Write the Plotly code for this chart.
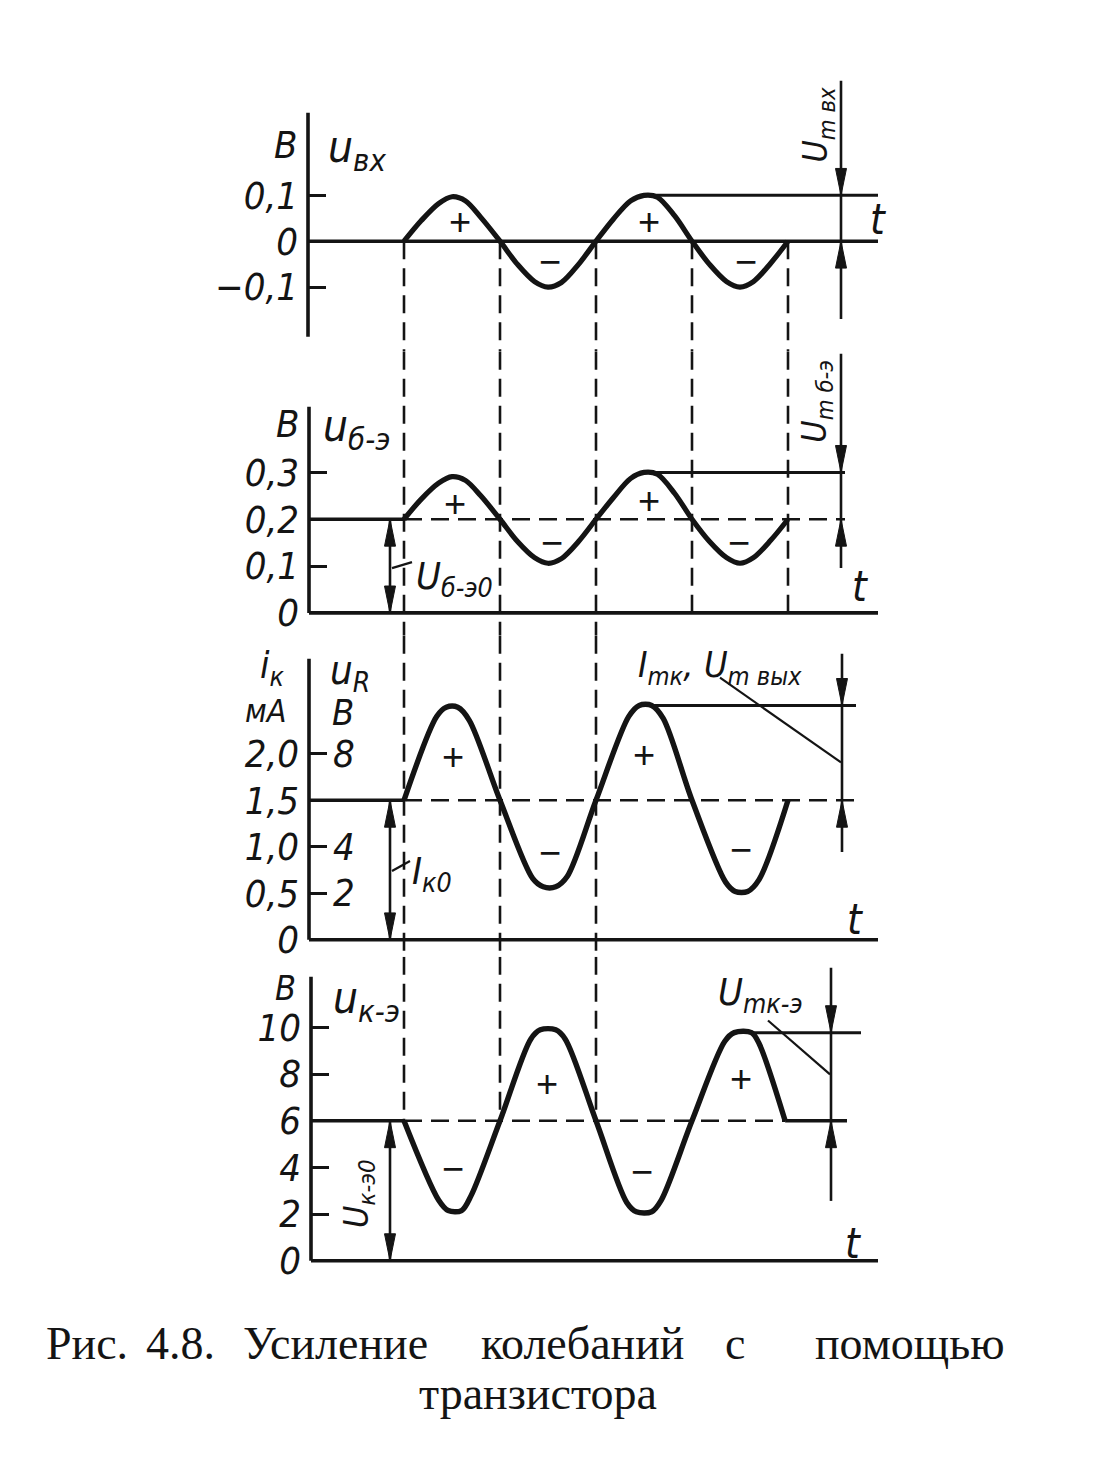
import plotly.graph_objects as go

W, H = 1093, 1461
INK = "#141414"
FONT = "Liberation Sans Narrow, DejaVu Sans Condensed, Liberation Sans, sans-serif"
SERIF = "Liberation Serif, DejaVu Serif, serif"

# ------------------------------------------------------------------ data
# time in half-periods of the input signal
t_in = [0.0, 0.18, 0.36, 0.5, 0.64, 0.8, 1.0, 1.18, 1.36, 1.5, 1.64, 1.82, 2.0,
        2.18, 2.36, 2.5, 2.64, 2.82, 3.0, 3.18, 3.36, 3.5, 3.64, 3.82, 4.0]
u_in = [0.0, 0.045, 0.082, 0.097, 0.088, 0.052, 0.0, -0.05, -0.088, -0.1, -0.09, -0.05, 0.0,
        0.048, 0.088, 0.1, 0.096, 0.055, 0.0, -0.05, -0.088, -0.1, -0.088, -0.048, 0.0]

t_be = [0.0, 0.18, 0.36, 0.5, 0.64, 0.8, 1.0, 1.18, 1.36, 1.5, 1.64, 1.82, 2.0,
        2.18, 2.36, 2.5, 2.64, 2.82, 3.0, 3.18, 3.36, 3.5, 3.64, 3.82, 4.0]
u_be = [0.2, 0.243, 0.277, 0.291, 0.283, 0.25, 0.2, 0.153, 0.118, 0.106, 0.116, 0.153, 0.2,
        0.246, 0.287, 0.3, 0.296, 0.255, 0.2, 0.153, 0.118, 0.106, 0.118, 0.155, 0.2]

t_k = [0.0, 0.34, 0.44, 0.56, 0.68, 1.0, 1.34, 1.45, 1.58, 1.7, 2.0,
       2.34, 2.45, 2.58, 2.7, 3.0, 3.35, 3.45, 3.58, 3.7, 4.0]
i_k = [1.5, 2.4, 2.5, 2.5, 2.36, 1.5, 0.66, 0.57, 0.57, 0.68, 1.5,
       2.4, 2.52, 2.52, 2.38, 1.5, 0.62, 0.52, 0.52, 0.65, 1.5]

t_ke = [0.0, 0.36, 0.46, 0.6, 0.7, 1.0, 1.32, 1.42, 1.58, 1.68, 2.0,
        2.32, 2.42, 2.58, 2.68, 3.0, 3.34, 3.44, 3.62, 3.7, 3.97]
u_ke = [6.0, 2.6, 2.15, 2.15, 2.8, 6.0, 9.5, 9.9, 9.9, 9.5, 6.0,
        2.5, 2.1, 2.1, 2.6, 6.0, 9.4, 9.78, 9.78, 9.3, 6.0]

# zero crossings of the input (dashed projection lines); True = reaches the last panel
cross_t = [0.0, 1.0, 2.0, 3.0, 4.0]
cross_deep = [True, True, True, False, False]

ticks_in = [0.1, 0.0, -0.1]
ticklab_in = ["0,1", "0", "−0,1"]
ticks_be = [0.3, 0.2, 0.1, 0.0]
ticklab_be = ["0,3", "0,2", "0,1", "0"]
ticks_k = [2.0, 1.5, 1.0, 0.5, 0.0]
ticklab_k = ["2,0", "1,5", "1,0", "0,5", "0"]
ticks_R_volts = [8, 4, 2]          # u_R scale, R = 4 kOhm
R_kohm = 4.0
ticks_ke = [10, 8, 6, 4, 2, 0]
ticklab_ke = ["10", "8", "6", "4", "2", "0"]

# ------------------------------------------------------------------ layout geometry (pixels)
X0_PX, T_PX = 396.0, 96.0
PANELS = {
    "y":  dict(zero=234.0, scale=460.0, top=60, bot=345, axis_x=300, axis_top=105, axis_bot=330),
    "y2": dict(zero=607.0, scale=470.0, top=345, bot=630, axis_x=301, axis_top=400, axis_bot=607),
    "y3": dict(zero=935.0, scale=93.33, top=630, bot=952, axis_x=301, axis_top=653, axis_bot=935),
    "y4": dict(zero=1257.0, scale=23.4, top=952, bot=1290, axis_x=303, axis_top=972, axis_bot=1257),
}


def tx(px):
    return (px - X0_PX) / T_PX


def vy(p, py):
    P = PANELS[p]
    return (P["zero"] - py) / P["scale"]


fig = go.Figure()


def line(p, xs, ys, width, dash=None, spline=False):
    ln = dict(color=INK, width=width)
    if dash:
        ln["dash"] = dash
    if spline:
        ln["shape"] = "spline"
        ln["smoothing"] = 0.9
    fig.add_trace(go.Scatter(x=xs, y=ys, mode="lines", line=ln, xaxis="x", yaxis=p,
                             hoverinfo="skip", showlegend=False))


def head(p, t, v, up):
    """narrow filled arrow head with its tip at (t, v)"""
    P = PANELS[p]
    dt = 5.5 / T_PX
    dv = 27.0 / P["scale"]
    base = v - dv if up else v + dv
    fig.add_trace(go.Scatter(x=[t - dt, t + dt, t, t - dt], y=[base, base, v, base],
                             mode="lines", fill="toself", fillcolor=INK,
                             line=dict(color=INK, width=1), xaxis="x", yaxis=p,
                             hoverinfo="skip", showlegend=False))


def amp_arrow(p, px, hi, lo, top_px, bot_px):
    t = tx(px)
    line(p, [t, t], [vy(p, top_px), vy(p, bot_px)], 2.6)
    head(p, t, hi, up=False)
    head(p, t, lo, up=True)


def dc_arrow(p, px, level):
    t = tx(px)
    line(p, [t, t], [level, 0.0], 2.6)
    head(p, t, level, up=True)
    head(p, t, 0.0, up=False)


DASH = "18px,9px"
AX_END = 870

# ---- axes lines
for p, P in PANELS.items():
    ta = tx(P["axis_x"])
    line(p, [ta, ta], [vy(p, P["axis_top"]), vy(p, P["axis_bot"])], 3.6)
    line(p, [ta, tx(AX_END)], [0.0, 0.0], 3.6)

# ---- dashed projection lines
for t, deep in zip(cross_t, cross_deep):
    line("y", [t, t], [0.0, vy("y", PANELS["y"]["bot"])], 2.6, DASH)
    line("y2", [t, t], [vy("y2", PANELS["y2"]["top"]), vy("y2", PANELS["y2"]["bot"]) if deep else 0.0], 2.6, DASH)
    if deep:
        line("y3", [t, t], [vy("y3", PANELS["y3"]["top"]), vy("y3", PANELS["y3"]["bot"])], 2.6, DASH)
        line("y4", [t, t], [vy("y4", PANELS["y4"]["top"]), u_ke[0]], 2.6, DASH)

# ---- panel 1: input voltage
line("y", t_in, u_in, 5.2, spline=True)
i_pk = max(range(len(u_in)), key=lambda i: (u_in[i], t_in[i]))
line("y", [t_in[i_pk], tx(870)], [u_in[i_pk], u_in[i_pk]], 3.0)
amp_arrow("y", 833, u_in[i_pk], u_in[0], 73, 312)

# ---- panel 2: base-emitter voltage
line("y2", [tx(PANELS["y2"]["axis_x"]), t_be[0]], [u_be[0], u_be[0]], 3.6)
line("y2", [t_be[0], tx(837)], [u_be[0], u_be[0]], 2.6, DASH)
line("y2", t_be, u_be, 5.2, spline=True)
i_pk = max(range(len(u_be)), key=lambda i: (u_be[i], t_be[i]))
line("y2", [t_be[i_pk], tx(837)], [u_be[i_pk], u_be[i_pk]], 3.0)
amp_arrow("y2", 833, u_be[i_pk], u_be[0], 347, 562)
dc_arrow("y2", 382, u_be[0])

# ---- panel 3: collector current / u_R
line("y3", [tx(PANELS["y3"]["axis_x"]), t_k[0]], [i_k[0], i_k[0]], 3.6)
line("y3", [t_k[0], tx(850)], [i_k[0], i_k[0]], 2.6, DASH)
line("y3", t_k, i_k, 5.4, spline=True)
i_pk = max(range(len(i_k)), key=lambda i: (i_k[i], t_k[i]))
line("y3", [t_k[i_pk], tx(848)], [i_k[i_pk], i_k[i_pk]], 3.0)
amp_arrow("y3", 834, i_k[i_pk], i_k[0], 648, 847)
dc_arrow("y3", 382, i_k[0])

# ---- panel 4: collector-emitter voltage
line("y4", [tx(PANELS["y4"]["axis_x"]), t_ke[0]], [u_ke[0], u_ke[0]], 3.6)
line("y4", [t_ke[0], t_ke[-1]], [u_ke[0], u_ke[0]], 2.6, DASH)
line("y4", t_ke, u_ke, 5.4, spline=True)
line("y4", [t_ke[-1], tx(839)], [u_ke[-1], u_ke[-1]], 3.4)
i_pk = max(range(len(u_ke)), key=lambda i: (round(u_ke[i], 2) if t_ke[i] > 3 else -1, t_ke[i]))
line("y4", [t_ke[i_pk], tx(853)], [u_ke[i_pk], u_ke[i_pk]], 3.0)
amp_arrow("y4", 823, u_ke[i_pk], u_ke[0], 963, 1197)
dc_arrow("y4", 382, u_ke[0])

# ---- leader lines (paper pixels)
for x0, y0, x1, y1 in [(384, 562, 404, 556), (384, 866, 402, 856),
                       (712, 672, 833, 757), (760, 1016, 822, 1070)]:
    fig.add_shape(type="line", xref="paper", yref="paper", x0=x0 / W, y0=1 - y0 / H,
                  x1=x1 / W, y1=1 - y1 / H, line=dict(color=INK, width=2.2))


# ---- text
def label(text, px, py, size=38, angle=0, family=FONT, italic=True, xanchor="center"):
    fig.add_annotation(text=text, x=px / W, y=1 - py / H, xref="paper", yref="paper",
                       showarrow=False, textangle=angle, xanchor=xanchor, yanchor="middle",
                       borderpad=0,
                       font=dict(family=family, size=size, color=INK,
                                 style="italic" if italic else "normal"))


SIGN = "Liberation Sans, DejaVu Sans, sans-serif"
labels = [
    # panel 1
    ("В", 278, 137, 38, 0), ("u<sub>вх</sub>", 349, 142, 44, 0),
    ("U<sub>m вх</sub>", 810, 117, 34, -90), ("t", 870, 212, 42, 0),
    # panel 2
    ("В", 279, 417, 38, 0), ("u<sub>б-э</sub>", 348, 422, 44, 0),
    ("U<sub>m б-э</sub>", 809, 395, 34, -90), ("t", 852, 580, 42, 0),
    ("U<sub>б-э0</sub>", 446, 572, 38, 0),
    # panel 3
    ("i<sub>к</sub>", 264, 662, 38, 0), ("u<sub>R</sub>", 342, 667, 40, 0),
    ("мА", 257, 705, 32, 0), ("В", 335, 707, 36, 0),
    ("I<sub>mк</sub>, U<sub>m вых</sub>", 712, 662, 36, 0),
    ("I<sub>к0</sub>", 424, 868, 38, 0), ("t", 847, 915, 42, 0),
    # panel 4
    ("В", 278, 983, 34, 0), ("u<sub>к-э</sub>", 358, 996, 44, 0),
    ("U<sub>mк-э</sub>", 752, 990, 38, 0), ("U<sub>к-э0</sub>", 351, 1190, 34, -90),
    ("t", 845, 1240, 42, 0),
]
for txt, x, y, s, a in labels:
    label(txt, x, y, s, a)

for txt, x, y in [("+", 452, 215), ("+", 641, 215), ("−", 542, 255), ("−", 738, 255),
                  ("+", 447, 498), ("+", 641, 495), ("−", 544, 537), ("−", 731, 537),
                  ("+", 445, 752), ("+", 636, 750), ("−", 542, 848), ("−", 733, 845),
                  ("−", 445, 1165), ("−", 634, 1168), ("+", 539, 1080), ("+", 733, 1075)]:
    label(txt, x, y, 38, family=SIGN, italic=False)

# u_R scale labels (second column, panel 3)
for uv in ticks_R_volts:
    fig.add_annotation(text=str(uv), x=336 / W, xref="paper", y=uv / R_kohm, yref="y3",
                       showarrow=False, xanchor="center", yanchor="middle", borderpad=0,
                       font=dict(family=FONT, size=38, color=INK, style="italic"))

# caption
for word, cx in [("Рис.", 79), ("4.8.", 172), ("Усиление", 327), ("колебаний", 574),
                 ("с", 727), ("помощью", 902)]:
    label(word, cx, 1340, 46, family=SERIF, italic=False)
label("транзистора", 530, 1390, 46, family=SERIF, italic=False)


# ---- axes
def yax(p, vals, texts):
    P = PANELS[p]
    return dict(domain=[1 - P["bot"] / H, 1 - P["top"] / H],
                range=[vy(p, P["bot"]), vy(p, P["top"])],
                anchor="free", position=P["axis_x"] / W,
                showgrid=False, zeroline=False, showline=False,
                tickmode="array", tickvals=vals, ticktext=texts,
                ticks="inside", ticklen=17, tickwidth=3, tickcolor=INK,
                ticklabelstandoff=10,
                tickfont=dict(family=FONT, size=38, color=INK, style="italic"),
                fixedrange=True)


fig.update_layout(
    width=W, height=H, margin=dict(l=0, r=0, t=0, b=0),
    paper_bgcolor="white", plot_bgcolor="rgba(0,0,0,0)", showlegend=False,
    font=dict(family=FONT, size=38, color=INK),
    xaxis=dict(domain=[0, 1], range=[tx(0), tx(W)], visible=False, fixedrange=True),
    yaxis=yax("y", ticks_in, ticklab_in),
    yaxis2=yax("y2", ticks_be, ticklab_be),
    yaxis3=yax("y3", ticks_k, ticklab_k),
    yaxis4=yax("y4", ticks_ke, ticklab_ke),
)

fig.write_html("out.html")
